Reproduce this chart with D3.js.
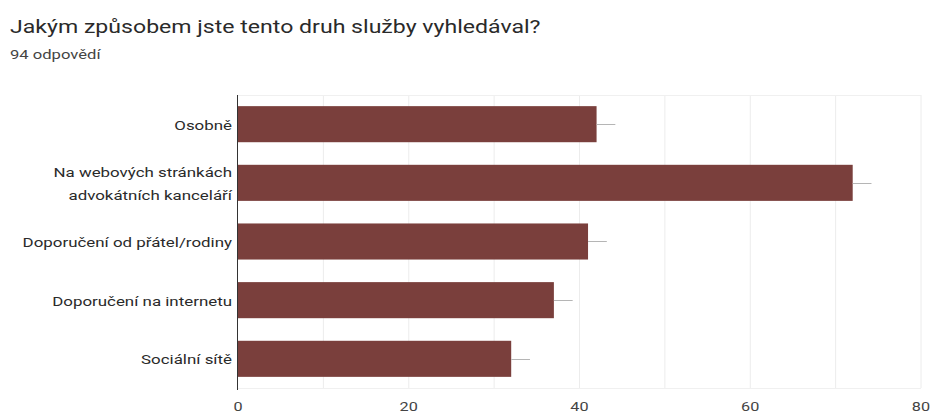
<!DOCTYPE html>
<html>
<head>
<meta charset="utf-8">
<script src="https://cdn.jsdelivr.net/npm/d3@7"></script>
<style>
  body { margin: 0; background: #fff; font-family: Roboto, Arial, sans-serif; }
</style>
</head>
<body>
<div id="chart"></div>
<script>
// data
const categories = [
    ["Osobně"],
    ["Na webových stránkách", "advokátních kanceláří"],
    ["Doporučení od přátel/rodiny"],
    ["Doporučení na internetu"],
    ["Sociální sítě"]
];
const counts = [42, 72, 41, 37, 32];
const errorSpan = [2.2, 2.2, 2.2, 2.2, 2.2];   // the little grey whisker after each bar
const xTicks = [0, 20, 40, 60, 80];
const gridTicks = [10, 20, 30, 40, 50, 60, 70, 80];

const W = 931, H = 415;
const margin = { top: 95, right: 10, bottom: 27, left: 238 };
const stretch = 1.3;   // text in the screenshot is wide, stretch it a bit

const svg = d3.select("#chart")
    .append("svg")
    .attr("width", W)
    .attr("height", H);

// helper: put a text at (x,y) stretched horizontally around its anchor
function wideText(g, x, y, sx) {
    return g.append("text")
        .attr("transform", `translate(${x},${y}) scale(${sx},1)`);
}

// title
wideText(svg, 10, 33, 1.32)
    .style("font-size", "17.5px")
    .style("fill", "#2a2a2a")
    .text("Jakým způsobem jste tento druh služby vyhledával?");

wideText(svg, 10, 59, 1.33)
    .style("font-size", "12.5px")
    .style("fill", "#444")
    .text("94 odpovědí");

const x = d3.scaleLinear()
    .domain([0, 80])
    .range([margin.left, 921]);

const y = d3.scaleBand()
    .domain(d3.range(categories.length))
    .range([margin.top, H - margin.bottom])
    .paddingInner(0.385)
    .paddingOuter(0.19);

// grid
svg.append("g")
    .selectAll("line")
    .data(gridTicks)
    .join("line")
    .attr("x1", d => x(d)).attr("x2", d => x(d))
    .attr("y1", margin.top).attr("y2", H - margin.bottom)
    .attr("stroke", "#ececec")
    .attr("stroke-width", 1);

svg.append("line")
    .attr("x1", margin.left).attr("x2", x(80))
    .attr("y1", margin.top + 0.5).attr("y2", margin.top + 0.5)
    .attr("stroke", "#f0f0f0");
svg.append("line")
    .attr("x1", margin.left).attr("x2", x(80))
    .attr("y1", H - margin.bottom + 0.5).attr("y2", H - margin.bottom + 0.5)
    .attr("stroke", "#f0f0f0");

// bars
svg.append("g")
    .selectAll("rect")
    .data(counts)
    .join("rect")
    .attr("x", x(0))
    .attr("y", (d, i) => y(i))
    .attr("width", d => x(d) - x(0))
    .attr("height", y.bandwidth())
    .attr("fill", "#7a3f3c");

// whiskers
svg.append("g")
    .selectAll("line")
    .data(counts)
    .join("line")
    .attr("x1", d => x(d))
    .attr("x2", (d, i) => x(d + errorSpan[i]))
    .attr("y1", (d, i) => Math.round(y(i) + y.bandwidth() / 2) + 0.5)
    .attr("y2", (d, i) => Math.round(y(i) + y.bandwidth() / 2) + 0.5)
    .attr("stroke", "#b5b5b5")
    .attr("stroke-width", 1);

// y axis line
svg.append("line")
    .attr("x1", margin.left - 0.5).attr("x2", margin.left - 0.5)
    .attr("y1", margin.top).attr("y2", H - margin.bottom + 2)
    .attr("stroke", "#333")
    .attr("stroke-width", 1);

// category labels
const catG = svg.append("g");
categories.forEach((lines, i) => {
    const cy = y(i) + y.bandwidth() / 2;
    const lh = 23;
    lines.forEach((ln, k) => {
        wideText(catG, margin.left - 6, cy + 5.5 + (k - (lines.length - 1) / 2) * lh, stretch)
            .attr("text-anchor", "end")
            .style("font-size", "13px")
            .style("fill", "#2a2a2a")
            .text(ln);
    });
});

// x tick labels
const tickG = svg.append("g");
xTicks.forEach(t => {
    wideText(tickG, x(t), 411, stretch)
        .attr("text-anchor", t === 80 ? "end" : "middle")
        .attr("dx", t === 80 ? 7 : 0)
        .style("font-size", "12.5px")
        .style("fill", "#444")
        .text(t);
});
</script>
</body>
</html>
